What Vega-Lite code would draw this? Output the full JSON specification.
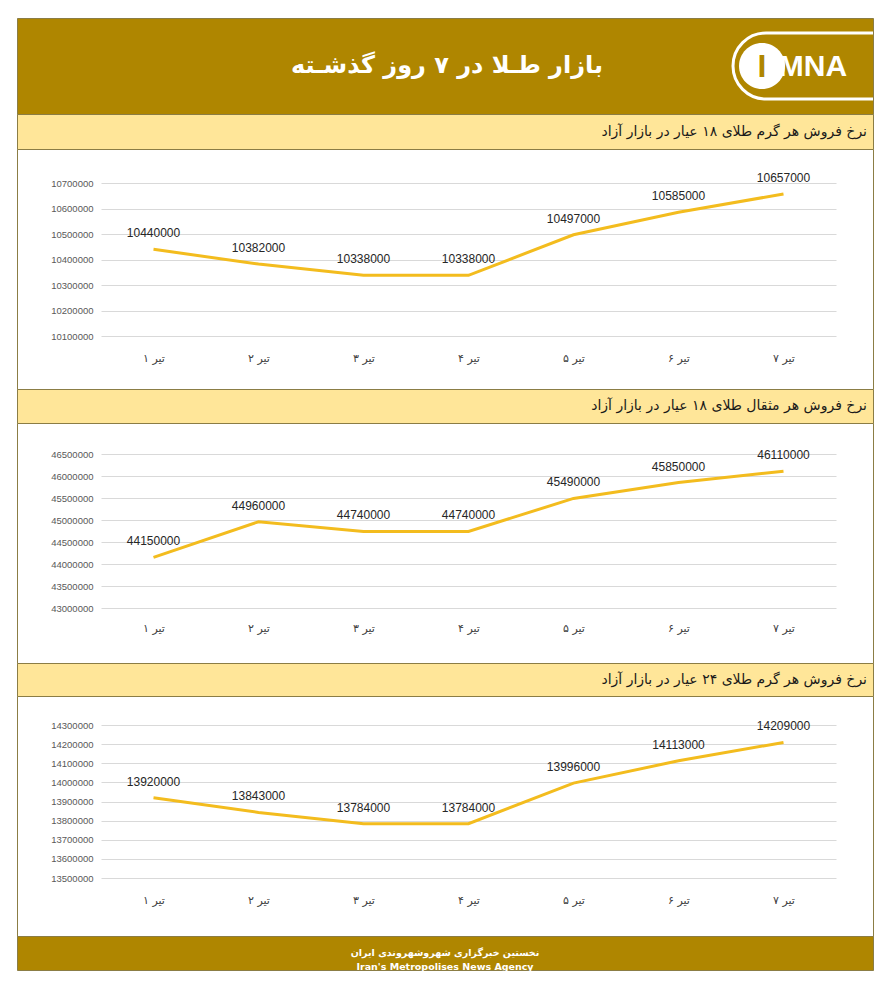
{
  "$schema": "https://vega.github.io/schema/vega-lite/v6.json",
  "background": "white",
  "padding": {"left": 16, "top": 17, "right": 16, "bottom": 31},
  "config": {"concat": {"spacing": 0}, "view": {"strokeWidth": 1}},
  "datasets": {
    "gold": [
      {"panel": "g18", "day": "تیر ۱", "value": 10440000},
      {"panel": "g18", "day": "تیر ۲", "value": 10382000},
      {"panel": "g18", "day": "تیر ۳", "value": 10338000},
      {"panel": "g18", "day": "تیر ۴", "value": 10338000},
      {"panel": "g18", "day": "تیر ۵", "value": 10497000},
      {"panel": "g18", "day": "تیر ۶", "value": 10585000},
      {"panel": "g18", "day": "تیر ۷", "value": 10657000},
      {"panel": "m18", "day": "تیر ۱", "value": 44150000},
      {"panel": "m18", "day": "تیر ۲", "value": 44960000},
      {"panel": "m18", "day": "تیر ۳", "value": 44740000},
      {"panel": "m18", "day": "تیر ۴", "value": 44740000},
      {"panel": "m18", "day": "تیر ۵", "value": 45490000},
      {"panel": "m18", "day": "تیر ۶", "value": 45850000},
      {"panel": "m18", "day": "تیر ۷", "value": 46110000},
      {"panel": "g24", "day": "تیر ۱", "value": 13920000},
      {"panel": "g24", "day": "تیر ۲", "value": 13843000},
      {"panel": "g24", "day": "تیر ۳", "value": 13784000},
      {"panel": "g24", "day": "تیر ۴", "value": 13784000},
      {"panel": "g24", "day": "تیر ۵", "value": 13996000},
      {"panel": "g24", "day": "تیر ۶", "value": 14113000},
      {"panel": "g24", "day": "تیر ۷", "value": 14209000}
    ]
  },
  "spacing": 0,
  "bounds": "flush",
  "vconcat": [
    {
      "width": 856, "height": 96,
      "view": {"fill": "#AF8600", "stroke": "#8B7D45"},
      "layer": [
        {
          "data": {"values": [{"label": "بازار طـلا در ۷ روز گذشـته"}]},
          "mark": {"type": "text", "align": "center", "baseline": "middle", "dx": 2, "font": "DejaVu Sans", "fontSize": 24, "fontWeight": "bold", "color": "white"},
          "encoding": {"text": {"field": "label", "type": "nominal"}}
        },
        {
          "data": {"values": [{"label": "logo"}]},
          "mark": {"type": "point", "shape": "M 4.28 -0.33 L 3.21 -0.33 A 0.33 0.33 0 0 0 3.21 0.33 L 4.28 0.33", "size": 40000, "filled": false, "stroke": "white", "strokeWidth": 3, "opacity": 1},
          "encoding": {}
        },
        {
          "data": {"values": [{"label": "logo"}]},
          "mark": {"type": "point", "shape": "M 2.94 0 A 0.23 0.23 0 1 0 3.40 0 A 0.23 0.23 0 1 0 2.94 0 Z", "size": 40000, "filled": true, "color": "white", "opacity": 1},
          "encoding": {}
        },
        {
          "data": {"values": [{"label": "I"}]},
          "mark": {"type": "text", "align": "center", "baseline": "middle", "dx": 317, "dy": 1, "font": "Liberation Sans", "fontSize": 32, "fontWeight": "bold", "color": "#AF8600"},
          "encoding": {"text": {"field": "label", "type": "nominal"}}
        },
        {
          "data": {"values": [{"label": "MNA"}]},
          "mark": {"type": "text", "align": "center", "baseline": "middle", "dx": 368, "dy": 1, "font": "Liberation Sans", "fontSize": 30, "fontWeight": "bold", "color": "white"},
          "encoding": {"text": {"field": "label", "type": "nominal"}}
        }
      ]
    },
    {
      "width": 856, "height": 35,
      "data": {"values": [{"label": "نرخ فروش هر گرم طلای ۱۸ عیار در بازار آزاد"}]},
      "mark": {"type": "text", "align": "right", "baseline": "middle", "dx": 422, "font": "DejaVu Sans", "fontSize": 14, "color": "#1a1a1a"},
      "encoding": {"text": {"field": "label", "type": "nominal"}},
      "view": {"fill": "#FFE699", "stroke": "#8B7D45"}
    },
    {
      "width": 856, "height": 240,
      "view": {"fill": "white", "stroke": "#8B7D45"},
      "data": {"name": "gold"},
      "transform": [{"filter": "datum.panel === 'g18'"}],
      "encoding": {
        "x": {"field": "day", "type": "ordinal", "sort": null, "scale": {"range": [84, 819]},
          "axis": {"orient": "bottom", "offset": -31, "domain": false, "ticks": false, "tickSize": 0, "labelPadding": 0, "labelBaseline": "middle", "labelAngle": 0, "labelFont": "DejaVu Sans", "labelFontSize": 11, "labelColor": "#404040", "title": null, "grid": false}},
        "y": {"field": "value", "type": "quantitative", "scale": {"domain": [10100000, 10700000], "range": [187, 34], "nice": false, "zero": false},
          "axis": {"values": [10100000, 10200000, 10300000, 10400000, 10500000, 10600000, 10700000], "format": "d", "orient": "left", "offset": -84, "domain": false, "ticks": false, "tickSize": 0, "labelPadding": 8, "labelFont": "Liberation Sans", "labelFontSize": 9.5, "labelColor": "#595959", "grid": true, "gridColor": "#D9D9D9", "title": null}}
      },
      "layer": [
        {"mark": {"type": "line", "color": "#F3BC1E", "strokeWidth": 3}},
        {"mark": {"type": "text", "dy": -16, "baseline": "middle", "fontSize": 12, "font": "Liberation Sans", "color": "#262626"},
          "encoding": {"text": {"field": "value", "type": "quantitative", "format": "d"}}}
      ]
    },
    {
      "width": 856, "height": 34,
      "data": {"values": [{"label": "نرخ فروش هر مثقال  طلای ۱۸ عیار در بازار آزاد"}]},
      "mark": {"type": "text", "align": "right", "baseline": "middle", "dx": 422, "font": "DejaVu Sans", "fontSize": 14, "color": "#1a1a1a"},
      "encoding": {"text": {"field": "label", "type": "nominal"}},
      "view": {"fill": "#FFE699", "stroke": "#8B7D45"}
    },
    {
      "width": 856, "height": 240,
      "view": {"fill": "white", "stroke": "#8B7D45"},
      "data": {"name": "gold"},
      "transform": [{"filter": "datum.panel === 'm18'"}],
      "encoding": {
        "x": {"field": "day", "type": "ordinal", "sort": null, "scale": {"range": [84, 819]},
          "axis": {"orient": "bottom", "offset": -35, "domain": false, "ticks": false, "tickSize": 0, "labelPadding": 0, "labelBaseline": "middle", "labelAngle": 0, "labelFont": "DejaVu Sans", "labelFontSize": 11, "labelColor": "#404040", "title": null, "grid": false}},
        "y": {"field": "value", "type": "quantitative", "scale": {"domain": [43000000, 46500000], "range": [185, 31], "nice": false, "zero": false},
          "axis": {"values": [43000000, 43500000, 44000000, 44500000, 45000000, 45500000, 46000000, 46500000], "format": "d", "orient": "left", "offset": -84, "domain": false, "ticks": false, "tickSize": 0, "labelPadding": 8, "labelFont": "Liberation Sans", "labelFontSize": 9.5, "labelColor": "#595959", "grid": true, "gridColor": "#D9D9D9", "title": null}}
      },
      "layer": [
        {"mark": {"type": "line", "color": "#F3BC1E", "strokeWidth": 3}},
        {"mark": {"type": "text", "dy": -16, "baseline": "middle", "fontSize": 12, "font": "Liberation Sans", "color": "#262626"},
          "encoding": {"text": {"field": "value", "type": "quantitative", "format": "d"}}}
      ]
    },
    {
      "width": 856, "height": 33,
      "data": {"values": [{"label": "نرخ فروش هر گرم طلای ۲۴ عیار در بازار آزاد"}]},
      "mark": {"type": "text", "align": "right", "baseline": "middle", "dx": 422, "font": "DejaVu Sans", "fontSize": 14, "color": "#1a1a1a"},
      "encoding": {"text": {"field": "label", "type": "nominal"}},
      "view": {"fill": "#FFE699", "stroke": "#8B7D45"}
    },
    {
      "width": 856, "height": 240,
      "view": {"fill": "white", "stroke": "#8B7D45"},
      "data": {"name": "gold"},
      "transform": [{"filter": "datum.panel === 'g24'"}],
      "encoding": {
        "x": {"field": "day", "type": "ordinal", "sort": null, "scale": {"range": [84, 819]},
          "axis": {"orient": "bottom", "offset": -36, "domain": false, "ticks": false, "tickSize": 0, "labelPadding": 0, "labelBaseline": "middle", "labelAngle": 0, "labelFont": "DejaVu Sans", "labelFontSize": 11, "labelColor": "#404040", "title": null, "grid": false}},
        "y": {"field": "value", "type": "quantitative", "scale": {"domain": [13500000, 14300000], "range": [182, 29], "nice": false, "zero": false},
          "axis": {"values": [13500000, 13600000, 13700000, 13800000, 13900000, 14000000, 14100000, 14200000, 14300000], "format": "d", "orient": "left", "offset": -84, "domain": false, "ticks": false, "tickSize": 0, "labelPadding": 8, "labelFont": "Liberation Sans", "labelFontSize": 9.5, "labelColor": "#595959", "grid": true, "gridColor": "#D9D9D9", "title": null}}
      },
      "layer": [
        {"mark": {"type": "line", "color": "#F3BC1E", "strokeWidth": 3}},
        {"mark": {"type": "text", "dy": -16, "baseline": "middle", "fontSize": 12, "font": "Liberation Sans", "color": "#262626"},
          "encoding": {"text": {"field": "value", "type": "quantitative", "format": "d"}}}
      ]
    },
    {
      "width": 856, "height": 34,
      "data": {"values": [{"label": "نخستین خبرگزاری شهروشهروندی ایران\nIran's Metropolises News Agency"}]},
      "mark": {"type": "text", "align": "center", "baseline": "middle", "lineBreak": "\n", "lineHeight": 14, "font": "Liberation Sans Narrow, DejaVu Sans", "fontSize": 9.5, "fontWeight": "bold", "color": "white"},
      "encoding": {"text": {"field": "label", "type": "nominal"}},
      "view": {"fill": "#AF8600", "stroke": "#8B7D45"}
    }
  ]
}
